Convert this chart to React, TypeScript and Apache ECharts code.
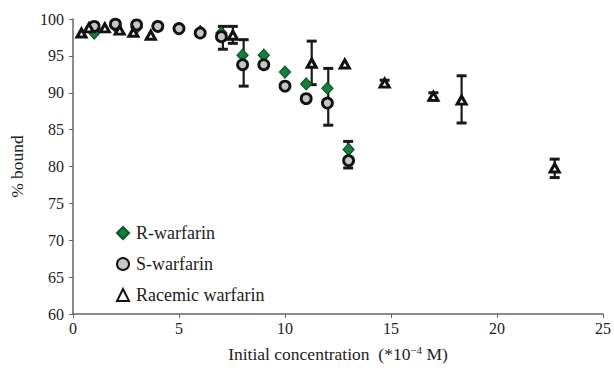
import React, { useEffect, useRef } from "react";
import * as echarts from "echarts";

// R-warfarin [concentration, % bound]
const rX = [1, 2, 3, 4, 5, 6, 7, 8, 9, 10, 11, 12, 13];
const rY = [98.1, 99.0, 98.8, 99.0, 98.7, 98.3, 98.1, 95.1, 95.1, 92.8, 91.2, 90.6, 82.3];
// S-warfarin
const sX = [1, 2, 3, 4, 5, 6, 7, 8, 9, 10, 11, 12, 13];
const sY = [99.0, 99.3, 99.2, 99.0, 98.7, 98.1, 97.6, 93.8, 93.8, 90.9, 89.2, 88.6, 80.8];
// Racemic warfarin
const cX = [0.4, 0.75, 1.5, 2.2, 2.85, 3.67, 7.54, 11.26, 12.82, 14.7, 17.0, 18.33, 22.72];
const cY = [98.1, 98.8, 98.8, 98.5, 98.2, 97.8, 97.8, 94.0, 93.9, 91.3, 89.5, 89.0, 79.8];

// Error bars: [x, low, high]
const errorBars = [
  [7.07, 95.9, 99.0],
  [7.54, 96.7, 99.0],
  [8.05, 90.9, 97.2],
  [11.26, 91.1, 97.0],
  [12.04, 85.6, 93.3],
  [12.98, 79.8, 83.4],
  [14.7, 90.9, 91.7],
  [17.0, 89.0, 90.0],
  [18.33, 85.9, 92.3],
  [22.72, 78.5, 81.0],
];

const seriesNames = ["R-warfarin", "S-warfarin", "Racemic warfarin"];

const FONT = "Liberation Serif";

export default function App() {
  const ref = useRef<HTMLDivElement>(null);
  useEffect(() => {
    if (!ref.current) return;
    const chart = echarts.init(ref.current, undefined, { renderer: "svg" });
    const zip = (xs: number[], ys: number[]) => xs.map((x, i) => [x, ys[i]]);
    chart.setOption({
      animation: false,
      backgroundColor: "#ffffff",
      textStyle: { fontFamily: FONT },
      grid: { left: 71, right: 11, top: 19, bottom: 54, containLabel: false },
      legend: {
        orient: "vertical",
        left: 111,
        top: 219,
        itemGap: 13,
        itemWidth: 12,
        itemHeight: 12,
        textStyle: { fontFamily: FONT, fontSize: 18, color: "#222", padding: [0, 0, 0, 2] },
        data: seriesNames,
      },
      xAxis: {
        type: "value",
        min: 0,
        max: 25,
        interval: 5,
        name: "{a|Initial concentration  (*10}{sup|−4}{a| M)}",
        nameLocation: "middle",
        nameGap: 30,
        nameTextStyle: {
          fontFamily: FONT,
          rich: {
            a: { fontFamily: FONT, fontSize: 17.5, color: "#222" },
            sup: { fontFamily: FONT, fontSize: 11, color: "#222", verticalAlign: "top", padding: [0, 0, 8, 0] },
          },
        },
        axisLine: { show: true, lineStyle: { color: "#666", width: 1.5 } },
        axisTick: { show: true, length: 4, lineStyle: { color: "#666" } },
        axisLabel: { fontFamily: FONT, fontSize: 16, color: "#222", margin: 6 },
        splitLine: { show: false },
      },
      yAxis: {
        type: "value",
        min: 60,
        max: 100,
        interval: 5,
        name: "% bound",
        nameLocation: "middle",
        nameGap: 47,
        nameRotate: 90,
        nameTextStyle: { fontFamily: FONT, fontSize: 17.5, color: "#222" },
        axisLine: { show: true, lineStyle: { color: "#666", width: 1.5 } },
        axisTick: { show: true, length: 4, lineStyle: { color: "#666" } },
        axisLabel: { fontFamily: FONT, fontSize: 16, color: "#222", margin: 9 },
        splitLine: { show: false },
      },
      series: [
        {
          name: "errors",
          type: "custom",
          z: 1,
          data: errorBars,
          encode: { x: 0, y: [1, 2] },
          renderItem: (params: any, api: any) => {
            const x = api.value(0);
            const lo = api.coord([x, api.value(1)]);
            const hi = api.coord([x, api.value(2)]);
            const w = 5;
            const st = { stroke: "#1a1a1a", lineWidth: 2.2 };
            return {
              type: "group",
              children: [
                { type: "line", shape: { x1: hi[0], y1: hi[1], x2: lo[0], y2: lo[1] }, style: st },
                { type: "line", shape: { x1: hi[0] - w, y1: hi[1], x2: hi[0] + w, y2: hi[1] }, style: { ...st, lineWidth: 3 } },
                { type: "line", shape: { x1: lo[0] - w, y1: lo[1], x2: lo[0] + w, y2: lo[1] }, style: { ...st, lineWidth: 3 } },
              ],
            };
          },
        },
        {
          name: seriesNames[0],
          type: "scatter",
          z: 2,
          symbol: "diamond",
          symbolSize: [11, 12],
          itemStyle: { color: "#157f3b", borderColor: "#0b5326", borderWidth: 1.2, opacity: 1 },
          data: zip(rX, rY),
        },
        {
          name: seriesNames[1],
          type: "scatter",
          z: 3,
          symbol: "circle",
          symbolSize: 10,
          itemStyle: { color: "#c6c6c6", borderColor: "#111", borderWidth: 2.8, opacity: 1 },
          data: zip(sX, sY),
        },
        {
          name: seriesNames[2],
          type: "scatter",
          z: 4,
          symbol: "triangle",
          symbolSize: [9, 8],
          itemStyle: { color: "#ffffff", borderColor: "#111", borderWidth: 3, opacity: 1 },
          data: zip(cX, cY),
        },
      ],
    });
    return () => chart.dispose();
  }, []);
  return <div ref={ref} style={{ width: 614, height: 368, position: "absolute", left: 0, top: 0 }} />;
}
